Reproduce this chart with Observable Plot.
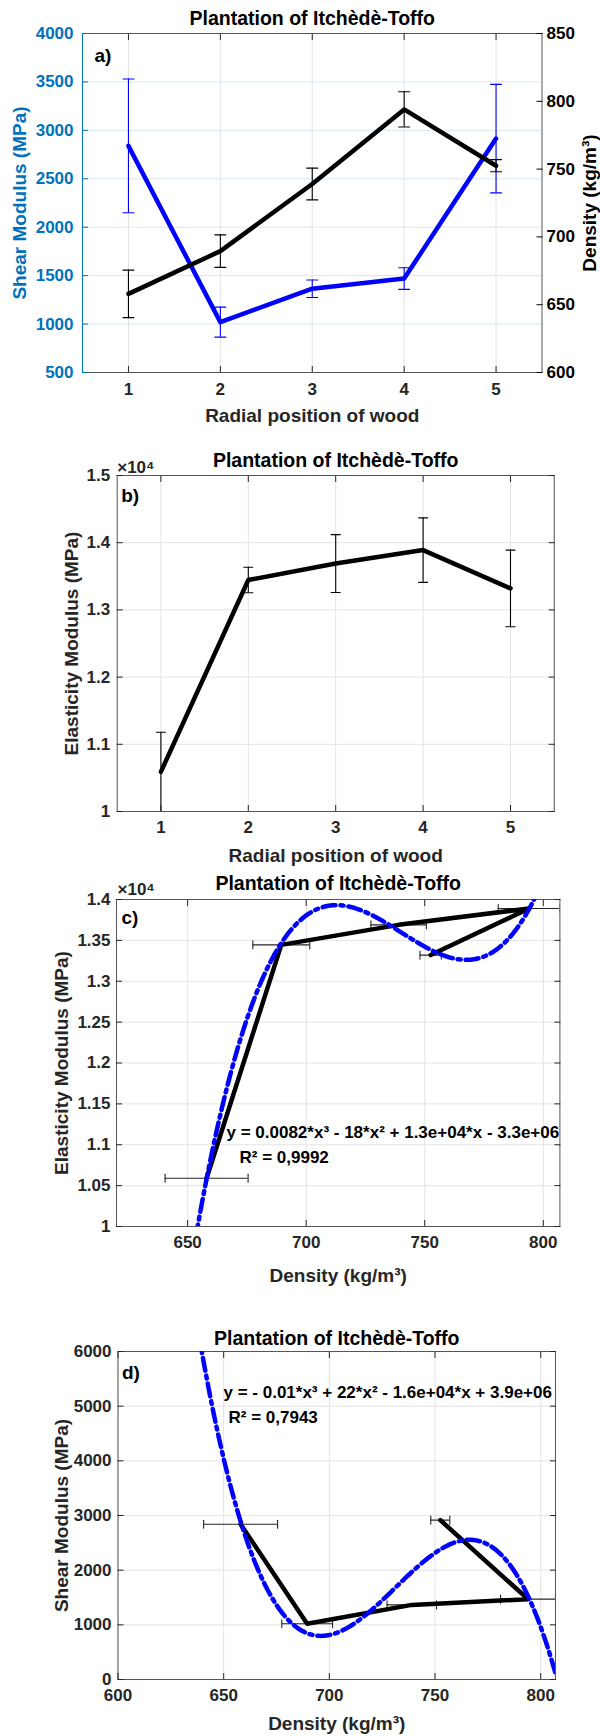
<!DOCTYPE html>
<html><head><meta charset="utf-8">
<script src="https://cdn.jsdelivr.net/npm/d3@7"></script>
<script src="https://cdn.jsdelivr.net/npm/@observablehq/plot@0.6"></script>
<style>
body{margin:0;background:#fff;width:600px;}
.panel{position:relative;width:600px;}
.panel svg{display:block;}
.overlay{position:absolute;left:0;top:0;pointer-events:none;}
</style></head><body><div id="chart"></div>
<script>
// ---- data ----
const positions = [1, 2, 3, 4, 5];
const shearModulus = [2840, 1020, 1365, 1470, 2915];
const shearErr = [690, 155, 90, 112, 560];
const density = [658, 689.5, 739, 794, 752.5];
const densityErr = [17.5, 12, 11.7, 13, 4.5];
const elasticity = [10590, 13445, 13690, 13890, 13320];
const elasticityErr = [590, 190, 430, 480, 570];

const shearTicksA = [500, 1000, 1500, 2000, 2500, 3000, 3500, 4000];
const densityTicksA = [600, 650, 700, 750, 800, 850];
const elasticityTicksB = [10000, 11000, 12000, 13000, 14000, 15000];
const elasticityTicksC = [10000, 10500, 11000, 11500, 12000, 12500, 13000, 13500, 14000];
const densityTicksC = [650, 700, 750, 800];
const densityTicksD = [600, 650, 700, 750, 800];
const shearTicksD = [0, 1000, 2000, 3000, 4000, 5000, 6000];

const title = "Plantation of Itchèdè-Toffo";
const eqC = "y = 0.0082*x³ - 18*x² + 1.3e+04*x - 3.3e+06";
const r2C = "R² = 0,9992";
const eqD = "y = - 0.01*x³ + 22*x² - 1.6e+04*x + 3.9e+06";
const r2D = "R² = 0,7943";

const rows = positions.map((p, i) => ({
  p, g: shearModulus[i], ge: shearErr[i], d: density[i], de: densityErr[i], e: elasticity[i], ee: elasticityErr[i]
}));

// ---- helpers ----
const FONT = "'Liberation Sans', Arial, Helvetica, sans-serif";
const INK = "#262626";
const GRID = "#e3e3e3";
const BLUE = "#0000ff";
const AXBLUE = "#0072BD";
const FS = 17;
const LFS = 19;
const TFS = 19.5;
const style = {fontFamily: FONT, fontWeight: "bold", fontSize: FS + "px", color: INK, background: "transparent", overflow: "visible"};
const capH = {draw(ctx, l) { ctx.moveTo(-l / 2, 0); ctx.lineTo(l / 2, 0); }};
const capV = {draw(ctx, l) { ctx.moveTo(0, -l / 2); ctx.lineTo(0, l / 2); }};
const plain = v => String(v);
const e4 = v => String(+(v / 1e4).toFixed(2));
const none = () => "";
const ax = (fn, ticks, o) => fn(ticks, {tickSize: -6, label: null, color: INK, fontSize: FS, fontWeight: "bold", fontFamily: FONT, ...o});

function vErr(data, xk, yk, ek, color, cap) {
  const o = {stroke: color, strokeWidth: 1.1, clip: true};
  return [
    Plot.ruleX(data, {x: xk, y1: d => d[yk] - d[ek], y2: d => d[yk] + d[ek], ...o}),
    Plot.vector(data, {x: xk, y: d => d[yk] - d[ek], length: cap, shape: capH, anchor: "start", ...o}),
    Plot.vector(data, {x: xk, y: d => d[yk] + d[ek], length: cap, shape: capH, anchor: "start", ...o})
  ];
}
function hErr(data, xk, ek, yk, color, cap) {
  const o = {stroke: color, strokeWidth: 1.1, clip: true};
  return [
    Plot.ruleY(data, {y: yk, x1: d => d[xk] - d[ek], x2: d => d[xk] + d[ek], ...o}),
    Plot.vector(data, {y: yk, x: d => d[xk] - d[ek], length: cap, shape: capV, anchor: "start", ...o}),
    Plot.vector(data, {y: yk, x: d => d[xk] + d[ek], length: cap, shape: capV, anchor: "start", ...o})
  ];
}
// least-squares cubic fit (centered for stability)
function cubicFit(xs, ys) {
  const x0 = d3.mean(xs), s = 50;
  const t = xs.map(x => (x - x0) / s);
  const A = [0, 1, 2, 3].map(() => [0, 0, 0, 0]), b = [0, 0, 0, 0];
  t.forEach((ti, k) => {
    for (let i = 0; i < 4; i++) {
      b[i] += ti ** i * ys[k];
      for (let j = 0; j < 4; j++) A[i][j] += ti ** (i + j);
    }
  });
  for (let c = 0; c < 4; c++) {
    let piv = c;
    for (let r = c + 1; r < 4; r++) if (Math.abs(A[r][c]) > Math.abs(A[piv][c])) piv = r;
    [A[c], A[piv]] = [A[piv], A[c]]; [b[c], b[piv]] = [b[piv], b[c]];
    for (let r = c + 1; r < 4; r++) {
      const f = A[r][c] / A[c][c];
      for (let k = c; k < 4; k++) A[r][k] -= f * A[c][k];
      b[r] -= f * b[c];
    }
  }
  const co = [0, 0, 0, 0];
  for (let r = 3; r >= 0; r--) {
    let sum = b[r];
    for (let k = r + 1; k < 4; k++) sum -= A[r][k] * co[k];
    co[r] = sum / A[r][r];
  }
  return x => { const u = (x - x0) / s; return co[0] + co[1] * u + co[2] * u * u + co[3] * u * u * u; };
}
function curve(fn, lo, hi) {
  return d3.range(lo, hi + 0.001, 0.25).map(x => ({x, y: fn(x)}));
}
const labelText = (txt, o) => Plot.text([txt], {fill: "#000", fontSize: LFS, fontWeight: "bold", fontFamily: FONT, lineAnchor: "middle", textAnchor: "middle", ...o});
const titleText = (o) => Plot.text([title], {fill: "#000", fontSize: TFS, fontWeight: "bold", fontFamily: FONT, lineAnchor: "middle", textAnchor: "middle", frameAnchor: "top", ...o});
const smallText = (txt, o) => Plot.text([txt], {fill: "#000", fontSize: FS, fontWeight: "bold", fontFamily: FONT, lineAnchor: "middle", textAnchor: "start", frameAnchor: "top-left", ...o});

const root = document.getElementById("chart");

// ---- panel a ----
{
  const div = document.createElement("div"); div.className = "panel"; root.appendChild(div);
  const m = {width: 600, height: 430, marginLeft: 82, marginRight: 58.5, marginTop: 33, marginBottom: 58};
  const a1 = Plot.plot({
    ...m, style: {...style, background: "#fff"},
    x: {domain: [0.5, 5.5]}, y: {domain: [500, 4000]},
    marks: [
      Plot.gridX(positions, {stroke: GRID, strokeOpacity: 1}),
      Plot.gridY(shearTicksA, {stroke: "#d6e8f5", strokeOpacity: 1}),
      Plot.frame({stroke: "#555"}),
      Plot.ruleX([0.5], {stroke: AXBLUE}),
      ...vErr(rows, "p", "g", "ge", BLUE, 11),
      Plot.line(rows, {x: "p", y: "g", stroke: BLUE, strokeWidth: 4.5, clip: true}),
      ax(Plot.axisY, shearTicksA, {anchor: "left", tickPadding: 15, color: AXBLUE, tickFormat: plain}),
      ax(Plot.axisX, positions, {anchor: "bottom", tickPadding: 16, tickFormat: plain}),
      ax(Plot.axisX, positions, {anchor: "top", tickFormat: none}),
      titleText({dy: -15}),
      labelText("Radial position of wood", {frameAnchor: "bottom", dy: 43, fill: INK}),
      labelText("Shear Modulus (MPa)", {frameAnchor: "left", dx: -63, rotate: -90, fill: AXBLUE}),
      labelText("a)", {frameAnchor: "top-left", dx: 12, dy: 22, textAnchor: "start"})
    ]
  });
  const a2 = Plot.plot({
    ...m, style,
    x: {domain: [0.5, 5.5], axis: null}, y: {domain: [600, 850]},
    marks: [
      ...vErr(rows, "p", "d", "de", "#000", 11),
      Plot.line(rows, {x: "p", y: "d", stroke: "#000", strokeWidth: 4.5, clip: true}),
      ax(Plot.axisY, densityTicksA, {anchor: "right", tickPadding: 10.5, color: "#000", tickFormat: plain}),
      labelText("Density (kg/m³)", {frameAnchor: "right", dx: 47.5, rotate: -90})
    ]
  });
  a2.classList.add("overlay");
  div.appendChild(a1); div.appendChild(a2);
}

// ---- panel b ----
{
  const b = Plot.plot({
    width: 600, height: 435, marginLeft: 116.7, marginRight: 46.3, marginTop: 45, marginBottom: 54,
    style: {...style, background: "#fff"},
    x: {domain: [0.5, 5.5]}, y: {domain: [10000, 15000]},
    marks: [
      Plot.gridX(positions, {stroke: GRID, strokeOpacity: 1}),
      Plot.gridY(elasticityTicksB, {stroke: GRID, strokeOpacity: 1}),
      Plot.frame({stroke: "#555"}),
      ...vErr(rows, "p", "e", "ee", "#000", 9),
      Plot.line(rows, {x: "p", y: "e", stroke: "#000", strokeWidth: 4.5, clip: true}),
      ax(Plot.axisY, elasticityTicksB, {anchor: "left", tickPadding: 13, tickFormat: e4}),
      ax(Plot.axisY, elasticityTicksB, {anchor: "right", tickFormat: none}),
      ax(Plot.axisX, positions, {anchor: "bottom", tickPadding: 15, tickFormat: plain}),
      ax(Plot.axisX, positions, {anchor: "top", tickFormat: none}),
      titleText({dy: -15}),
      smallText("×10⁴", {dx: 0, dy: -8, fill: INK}),
      labelText("b)", {frameAnchor: "top-left", dx: 4, dy: 20, textAnchor: "start"}),
      labelText("Radial position of wood", {frameAnchor: "bottom", dy: 44, fill: INK}),
      labelText("Elasticity Modulus (MPa)", {frameAnchor: "left", dx: -45.7, rotate: -90, fill: INK})
    ]
  });
  root.appendChild(b);
}

// ---- panel c ----
{
  const fitC = cubicFit(density, elasticity);
  const c = Plot.plot({
    width: 600, height: 425, marginLeft: 116, marginRight: 40.6, marginTop: 34, marginBottom: 64,
    style: {...style, background: "#fff"},
    x: {domain: [620, 807]}, y: {domain: [10000, 14000]},
    marks: [
      Plot.gridX(densityTicksC, {stroke: GRID, strokeOpacity: 1}),
      Plot.gridY(elasticityTicksC, {stroke: GRID, strokeOpacity: 1}),
      Plot.frame({stroke: "#555"}),
      ...hErr(rows, "d", "de", "e", INK, 8),
      Plot.line(rows, {x: "d", y: "e", stroke: "#000", strokeWidth: 4.5, clip: true}),
      Plot.line(curve(fitC, 620, 807), {x: "x", y: "y", stroke: BLUE, strokeWidth: 4.5, strokeDasharray: "13,5,3,5", clip: true}),
      ax(Plot.axisY, elasticityTicksC, {anchor: "left", tickPadding: 12, tickFormat: e4}),
      ax(Plot.axisY, elasticityTicksC, {anchor: "right", tickFormat: none}),
      ax(Plot.axisX, densityTicksC, {anchor: "bottom", tickPadding: 15, tickFormat: plain}),
      ax(Plot.axisX, densityTicksC, {anchor: "top", tickFormat: none}),
      titleText({dy: -16}),
      smallText("×10⁴", {dx: 1, dy: -10, fill: INK}),
      labelText("c)", {frameAnchor: "top-left", dx: 5, dy: 18, textAnchor: "start"}),
      smallText(eqC, {dx: 110, dy: 233}),
      smallText(r2C, {dx: 123, dy: 258}),
      labelText("Density (kg/m³)", {frameAnchor: "bottom", dy: 49, fill: INK}),
      labelText("Elasticity Modulus (MPa)", {frameAnchor: "left", dx: -55, rotate: -90, fill: INK})
    ]
  });
  root.appendChild(c);
}

// ---- panel d ----
{
  const fitD = cubicFit(density, shearModulus);
  const d = Plot.plot({
    width: 600, height: 446, marginLeft: 117.5, marginRight: 45, marginTop: 61, marginBottom: 57,
    style: {...style, background: "#fff"},
    x: {domain: [600, 807]}, y: {domain: [0, 6000]},
    marks: [
      Plot.gridX(densityTicksD, {stroke: GRID, strokeOpacity: 1}),
      Plot.gridY(shearTicksD, {stroke: GRID, strokeOpacity: 1}),
      Plot.frame({stroke: "#555"}),
      ...hErr(rows, "d", "de", "g", INK, 8),
      Plot.line(rows, {x: "d", y: "g", stroke: "#000", strokeWidth: 4.5, clip: true}),
      Plot.line(curve(fitD, 600, 807), {x: "x", y: "y", stroke: BLUE, strokeWidth: 4.5, strokeDasharray: "13,5,3,5", clip: true}),
      ax(Plot.axisY, shearTicksD, {anchor: "left", tickPadding: 12.5, tickFormat: plain}),
      ax(Plot.axisY, shearTicksD, {anchor: "right", tickFormat: none}),
      ax(Plot.axisX, densityTicksD, {anchor: "bottom", tickPadding: 15, tickFormat: plain}),
      ax(Plot.axisX, densityTicksD, {anchor: "top", tickFormat: none}),
      titleText({dy: -13}),
      labelText("d)", {frameAnchor: "top-left", dx: 4, dy: 21, textAnchor: "start"}),
      smallText(eqD, {dx: 105.5, dy: 41}),
      smallText(r2D, {dx: 110.5, dy: 66}),
      labelText("Density (kg/m³)", {frameAnchor: "bottom", dy: 44, fill: INK}),
      labelText("Shear Modulus (MPa)", {frameAnchor: "left", dx: -56.5, rotate: -90, fill: INK})
    ]
  });
  root.appendChild(d);
}
</script>
</body></html>
